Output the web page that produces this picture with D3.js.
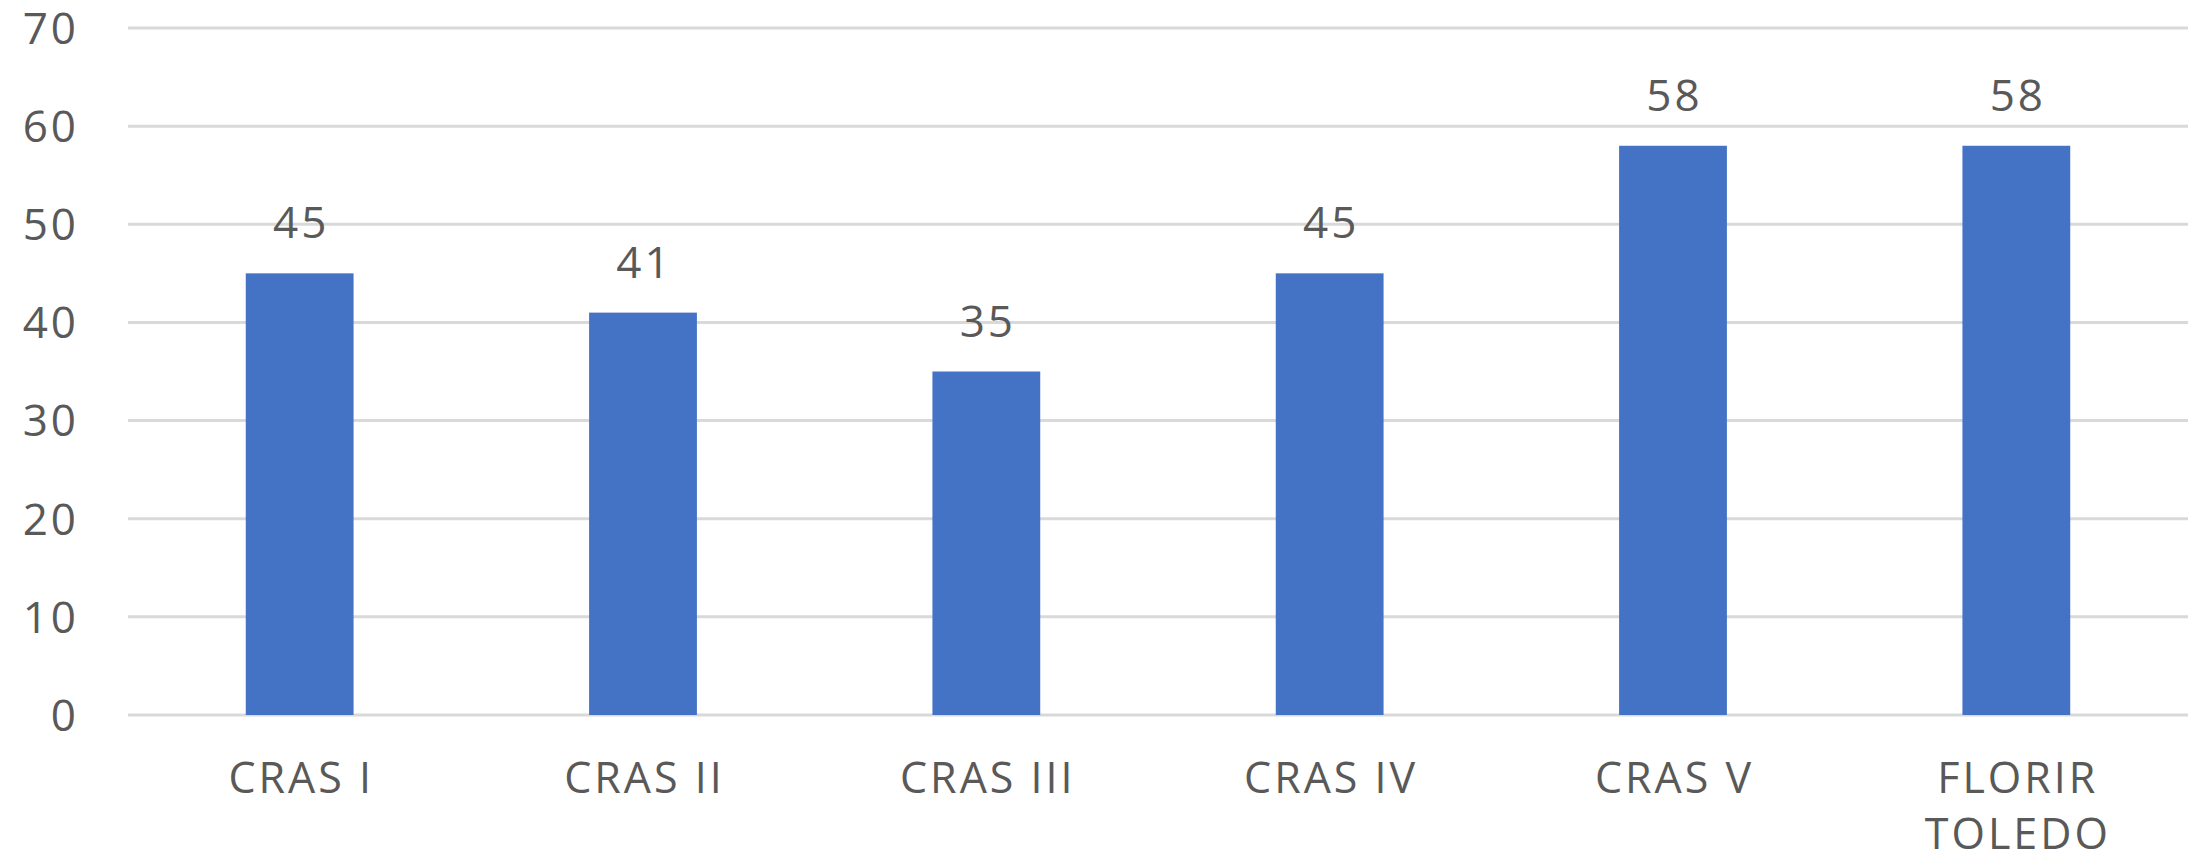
<!DOCTYPE html>
<html>
<head>
<meta charset="utf-8">
<script src="https://cdn.jsdelivr.net/npm/d3@7"></script>
<style>
  body { margin: 0; background: #fff; }
  text { font-family: "Open Sans", sans-serif; fill: #595959; }
</style>
</head>
<body>
<div id="chart"></div>
<script>
// data
var categories = ["CRAS I", "CRAS II", "CRAS III", "CRAS IV", "CRAS V", "FLORIR TOLEDO"];
var values = [45, 41, 35, 45, 58, 58];
var yTicks = [0, 10, 20, 30, 40, 50, 60, 70];

var width = 2193, height = 859;
var margin = {top: 28, right: 5, bottom: 144, left: 128};

var svg = d3.select("#chart")
  .append("svg")
  .attr("width", width)
  .attr("height", height);

var x = d3.scaleBand()
  .domain(categories)
  .range([margin.left, width - margin.right])
  .paddingInner(0.686)
  .paddingOuter(0.343);

var y = d3.scaleLinear()
  .domain([0, 70])
  .range([height - margin.bottom, margin.top]);

// gridlines
svg.append("g")
  .selectAll("line")
  .data(yTicks)
  .enter()
  .append("line")
    .attr("x1", margin.left)
    .attr("x2", width - margin.right)
    .attr("y1", function (d) { return y(d); })
    .attr("y2", function (d) { return y(d); })
    .attr("stroke", "#d9d9d9")
    .attr("stroke-width", 3);

// y tick labels
svg.append("g")
  .selectAll("text")
  .data(yTicks)
  .enter()
  .append("text")
    .attr("x", 79)
    .attr("y", function (d) { return y(d); })
    .attr("dy", "0.36em")
    .attr("text-anchor", "end")
    .attr("font-size", 44)
    .attr("letter-spacing", 3)
    .text(function (d) { return d; });

// bars
svg.append("g")
  .selectAll("rect")
  .data(values)
  .enter()
  .append("rect")
    .attr("x", function (d, i) { return x(categories[i]); })
    .attr("y", function (d) { return y(d); })
    .attr("width", x.bandwidth())
    .attr("height", function (d) { return y(0) - y(d); })
    .attr("fill", "#4472C4");

// value labels
svg.append("g")
  .selectAll("text")
  .data(values)
  .enter()
  .append("text")
    .attr("x", function (d, i) { return x(categories[i]) + x.bandwidth() / 2 + 1.5; })
    .attr("y", function (d) { return y(d) - 35; })
    .attr("text-anchor", "middle")
    .attr("font-size", 44)
    .attr("letter-spacing", 3)
    .text(function (d) { return d; });

// category labels, wrapped on space when too long
var catLabels = svg.append("g")
  .selectAll("text")
  .data(categories)
  .enter()
  .append("text")
    .attr("x", function (d) { return x(d) + x.bandwidth() / 2 + 1.5; })
    .attr("y", y(0) + 78)
    .attr("text-anchor", "middle")
    .attr("font-size", 43)
    .attr("letter-spacing", 3);

catLabels.each(function (d) {
  var lines = d.length > 10 ? d.split(" ") : [d];
  var el = d3.select(this);
  lines.forEach(function (t, k) {
    el.append("tspan")
      .attr("x", el.attr("x"))
      .attr("dy", k === 0 ? 0 : 56)
      .text(t);
  });
});
</script>
</body>
</html>
